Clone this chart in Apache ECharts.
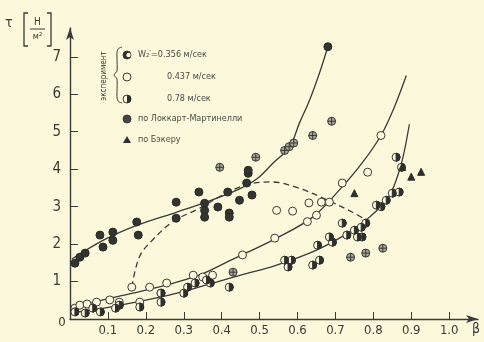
<!DOCTYPE html>
<html><head><meta charset="utf-8">
<script src="https://cdn.jsdelivr.net/npm/echarts@6/dist/echarts.min.js"></script>
<style>html,body{margin:0;padding:0;background:#fcf8dc;}#c{width:484px;height:342px;}</style>
</head><body><div id="c"></div>
<script>
// ---- data ----
const xTicks = [0.1,0.2,0.3,0.4,0.5,0.6,0.7,0.8,0.9,1.0];
const yTicks = [0,1,2,3,4,5,6,7];

// fitted curves
const curve356 = [[0.005,1.6],[0.087,2.1],[0.176,2.5],[0.28,2.85],[0.35,3.09],[0.44,3.44],[0.495,3.76],[0.535,4.16],[0.579,4.59],[0.605,5.23],[0.632,5.85],[0.658,6.57],[0.68,7.27]];
const curve437 = [[0.005,0.27],[0.087,0.51],[0.166,0.69],[0.255,0.91],[0.34,1.17],[0.42,1.55],[0.545,2.16],[0.64,2.72],[0.71,3.44],[0.77,4.16],[0.82,4.9],[0.855,5.65],[0.887,6.5]];
const curve78 = [[0.005,0.17],[0.105,0.32],[0.24,0.59],[0.34,0.85],[0.45,1.17],[0.545,1.44],[0.65,1.84],[0.737,2.32],[0.79,2.72],[0.84,3.25],[0.865,3.85],[0.88,4.4],[0.895,5.2]];
const curveDashed = [[0.163,0.85],[0.172,1.3],[0.185,1.7],[0.21,2.03],[0.27,2.59],[0.34,2.95],[0.41,3.35],[0.47,3.6],[0.53,3.66],[0.605,3.49],[0.68,3.17],[0.745,2.85],[0.785,2.62]];

// experimental points
const pts356 = [[0.013,1.49],[0.026,1.65],[0.04,1.76],[0.079,2.24],[0.087,1.92],[0.113,2.32],[0.113,2.1],[0.176,2.59],[0.18,2.24],[0.28,3.12],[0.28,2.69],[0.34,3.39],[0.355,3.09],[0.355,2.9],[0.355,2.72],[0.39,2.99],[0.416,3.39],[0.42,2.83],[0.42,2.72],[0.447,3.17],[0.466,3.63],[0.47,3.89],[0.48,3.31],[0.47,3.97],[0.68,7.27]];
const pts437 = [[0.013,0.29],[0.026,0.37],[0.045,0.4],[0.07,0.45],[0.105,0.51],[0.13,0.45],[0.163,0.85],[0.184,0.45],[0.21,0.85],[0.24,0.69],[0.255,0.96],[0.325,1.17],[0.35,1.12],[0.376,1.17],[0.455,1.71],[0.54,2.16],[0.545,2.9],[0.587,2.88],[0.626,2.6],[0.63,3.1],[0.65,2.77],[0.663,3.12],[0.684,3.12],[0.718,3.63],[0.785,3.92],[0.82,4.9]];
const pts78 = [[0.013,0.19],[0.04,0.16],[0.06,0.29],[0.08,0.19],[0.12,0.29],[0.13,0.37],[0.184,0.32],[0.24,0.45],[0.24,0.69],[0.3,0.69],[0.31,0.85],[0.33,0.96],[0.36,1.04],[0.37,0.96],[0.42,0.85],[0.566,1.57],[0.584,1.57],[0.575,1.39],[0.64,1.44],[0.658,1.57],[0.653,1.97],[0.684,2.19],[0.692,2.05],[0.718,2.56],[0.73,2.24],[0.75,2.37],[0.758,2.19],[0.77,2.19],[0.768,2.45],[0.78,2.56],[0.808,3.04],[0.82,3.0],[0.834,3.17],[0.85,3.36],[0.868,3.39],[0.874,4.05],[0.86,4.32]];
const ptsLockhart = [[0.395,4.05],[0.49,4.32],[0.566,4.5],[0.578,4.6],[0.59,4.7],[0.64,4.9],[0.69,5.28],[0.43,1.25],[0.74,1.65],[0.78,1.76],[0.825,1.89]];
const ptsBaker = [[0.75,3.36],[0.876,4.06],[0.9,3.8],[0.926,3.93]];

const legendLabels = ['W\u2082\u2032=0.356 м/сек','0.437 м/сек','0.78 м/сек','по Локкарт-Мартинелли','по Бэкеру'];
const bracketLabel = 'эксперимент';

// ---- styling ----
const BG = '#fcf8dc', INK = '#3a3a36', FONT = "'DejaVu Sans Condensed','DejaVu Sans',sans-serif";
const halfDisc = 'path://M0,-1 A1,1 0 0,1 0,1 Z M-1,0 L-1,0.0001';
const crossCircle = 'path://M0,-1 A1,1 0 1,1 0,1 A1,1 0 1,1 0,-1 Z M-1,0 L1,0 M0,-1 L0,1';

function lineSeries(data, dashed){
  return {type:'line', data, smooth:0.35, showSymbol:false, symbol:'none', silent:true, z:2,
    lineStyle:{color:INK, width:1.3, type: dashed ? [6,4] : 'solid'}};
}
function scat(data, symbol, fill, border, size, z){
  return {type:'scatter', data, symbol, symbolSize:size||8, z:z||3, symbolKeepAspect:true,
    itemStyle:{color:fill, borderColor:border, borderWidth:1, opacity:1}};
}

const chart = echarts.init(document.getElementById('c'), null, {renderer:'canvas'});
const g = [];
// y title  τ [Н/м²]
g.push({type:'text', left:5, top:16, style:{text:'τ', font:'14px '+FONT, fill:INK}});
g.push({type:'polyline', shape:{points:[[28,13],[24,13],[24,46],[28,46]]}, style:{stroke:INK, lineWidth:1.3, fill:null}});
g.push({type:'polyline', shape:{points:[[47,13],[51,13],[51,46],[47,46]]}, style:{stroke:INK, lineWidth:1.3, fill:null}});
g.push({type:'text', x:37.5, y:22, style:{text:'Н', font:'10px '+FONT, fill:INK, align:'center', verticalAlign:'middle'}});
g.push({type:'line', shape:{x1:30, y1:29, x2:45, y2:29}, style:{stroke:INK, lineWidth:1}});
g.push({type:'text', x:37.5, y:37, style:{text:'м²', font:'9px '+FONT, fill:INK, align:'center', verticalAlign:'middle'}});
// x title
g.push({type:'text', x:476, y:329, style:{text:'β', font:'14px '+FONT, fill:INK, align:'center', verticalAlign:'middle'}});
// origin label
g.push({type:'text', x:62, y:323, style:{text:'0', font:'13px '+FONT, fill:INK, align:'center', verticalAlign:'middle'}});
// legend bracket
g.push({type:'polyline', shape:{points:[[122,47],[118.5,48.5],[117,52],[117,71],[114,75],[117,79],[117,98],[118.5,101.5],[122,103]], smooth:0.2}, style:{stroke:INK, lineWidth:1, fill:null}});
g.push({type:'text', x:104, y:76, rotation:Math.PI/2, style:{text:bracketLabel, font:'8px '+FONT, fill:INK, align:'center', verticalAlign:'middle'}});
// legend symbols
const LX = 127, rows = [55,77,99,119,140];
g.push({type:'circle', shape:{cx:LX, cy:rows[0], r:4}, style:{fill:'#2e2e2c', stroke:INK, lineWidth:1}});
g.push({type:'circle', shape:{cx:LX+1.5, cy:rows[0], r:2.2}, style:{fill:BG}});
g.push({type:'circle', shape:{cx:LX, cy:rows[1], r:4}, style:{fill:BG, stroke:INK, lineWidth:1}});
g.push({type:'circle', shape:{cx:LX, cy:rows[2], r:4}, style:{fill:BG, stroke:INK, lineWidth:1}});
g.push({type:'sector', shape:{cx:LX, cy:rows[2], r:4, startAngle:-Math.PI/2, endAngle:Math.PI/2}, style:{fill:'#2e2e2c'}});
g.push({type:'circle', shape:{cx:LX, cy:rows[3], r:4}, style:{fill:'#444', stroke:INK, lineWidth:1}});
g.push({type:'polygon', shape:{points:[[LX,rows[4]-4],[LX+4,rows[4]+3],[LX-4,rows[4]+3]]}, style:{fill:'#2e2e2c'}});
// legend texts
const tx = [138,167,167,138,138];
legendLabels.forEach((t,i)=>g.push({type:'text', x:tx[i], y:rows[i], style:{text:t, font:'9px '+FONT, fill:'#4a4a44', verticalAlign:'middle'}}));

chart.setOption({
  backgroundColor: BG,
  animation:false,
  grid:{left:70, right:6, top:28, bottom:23},
  xAxis:{type:'value', min:0, max:1.076,
    axisLine:{show:true, symbol:['none','arrow'], symbolSize:[6,12], lineStyle:{color:INK, width:1.4}},
    axisTick:{show:true, inside:true, length:7, customValues:xTicks, lineStyle:{color:INK, width:1}},
    axisLabel:{customValues:xTicks, formatter:v=>v.toFixed(1), color:INK, fontSize:13, fontFamily:FONT, margin:5},
    splitLine:{show:false}},
  yAxis:{type:'value', min:0, max:7.77,
    axisLine:{show:true, symbol:['none','arrow'], symbolSize:[6,12], lineStyle:{color:INK, width:1.4}},
    axisTick:{show:true, inside:true, length:8, customValues:yTicks.slice(1), lineStyle:{color:INK, width:1}},
    axisLabel:{customValues:yTicks.slice(1), color:INK, fontSize:15, fontFamily:FONT, margin:9},
    splitLine:{show:false}},
  graphic:g,
  series:[
    lineSeries(curve356,false), lineSeries(curve437,false), lineSeries(curve78,false), lineSeries(curveDashed,true),
    scat(pts437,'circle',BG,INK,8,3),
    scat(pts78,'circle',BG,INK,8,3),
    scat(pts78,halfDisc,'#2e2e2c','#2e2e2c',8,4),
    scat(pts356,'circle','#33332f','#2a2a28',8,5),
    scat(ptsLockhart,crossCircle,'#a9a79a','#3a3a36',8,5),
    scat(ptsBaker,'triangle','#2e2e2c','#2e2e2c',7,5)
  ]
});
</script></body></html>
